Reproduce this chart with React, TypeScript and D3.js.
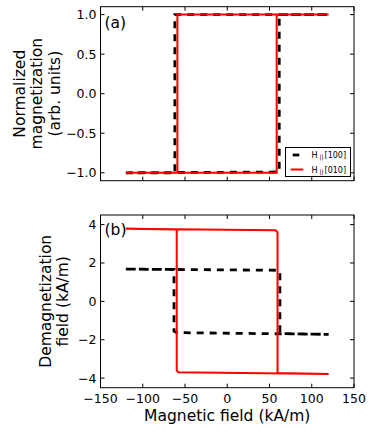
import React from "react";
import * as d3 from "d3";

// Panel (a): normalized magnetization loops
const hA100 = [-120, 60, 61.5, 61.5, 120, 120, -62, -62, -120];
const mA100 = [-1, -0.99, -0.98, 1, 1, 1, 1, -1, -1];
const hA010 = [-120, 58.5, 58.5, 120, 120, -59, -59, -120];
const mA010 = [-1, -1, 1, 1, 1, 1, -1, -1];

// Panel (b): demagnetization field loops (kA/m)
const hB100 = [-120, 58, 62.3, 62.3, 120, 120, -60, -63, -63, -120];
const dB100 = [1.68, 1.62, 1.55, -1.68, -1.72, -1.72, -1.63, -1.55, 1.66, 1.68];
const hB010 = [-120, 57, 59.5, 59.5, 120, 120, -58, -59.8, -59.8, -120];
const dB010 = [3.78, 3.7, 3.6, -3.74, -3.78, -3.78, -3.7, -3.6, 3.74, 3.78];

const xTicks = [-150, -100, -50, 0, 50, 100, 150];
const yTicksA = [-1.0, -0.5, 0.0, 0.5, 1.0];
const yTicksB = [-4, -2, 0, 2, 4];
const legendLabels = ["[100]", "[010]"];

const FONT = "DejaVu Sans, sans-serif";
const fmtMinus = (s: string) => s.replace("-", "\u2212");

const X0 = 100.5, X1 = 354;
const x = d3.scaleLinear().domain([-150, 150]).range([X0, X1]);
const yA = d3.scaleLinear().domain([-1.1, 1.1]).range([180.7, 6.7]);
const yB = d3.scaleLinear().domain([-4.5, 4.5]).range([387.7, 215]);

function pathOf(hs: number[], vs: number[], y: d3.ScaleLinear<number, number>) {
  const pts: [number, number][] = hs.map((h, i) => [h, vs[i]]);
  return d3.line<[number, number]>().x(d => x(d[0])).y(d => y(d[1]))(pts) || "";
}

function Frame({ y, yTicks, fmt }: { y: d3.ScaleLinear<number, number>; yTicks: number[]; fmt: (v: number) => string }) {
  const [yb, yt] = y.range();
  const T = 4;
  return (
    <g>
      <rect x={X0} y={yt} width={X1 - X0} height={yb - yt} fill="none" stroke="#000" strokeWidth={1} />
      {xTicks.map(t => (
        <g key={"x" + t}>
          <line x1={x(t)} x2={x(t)} y1={yb} y2={yb - T} stroke="#000" strokeWidth={1} />
          <line x1={x(t)} x2={x(t)} y1={yt} y2={yt + T} stroke="#000" strokeWidth={1} />
        </g>
      ))}
      {yTicks.map(t => (
        <g key={"y" + t}>
          <line x1={X0} x2={X0 + T} y1={y(t)} y2={y(t)} stroke="#000" strokeWidth={1} />
          <line x1={X1} x2={X1 - T} y1={y(t)} y2={y(t)} stroke="#000" strokeWidth={1} />
          <text x={96.5} y={y(t)} dy="0.36em" textAnchor="end" fontSize={12.5} fontFamily={FONT}>
            {fmtMinus(fmt(t))}
          </text>
        </g>
      ))}
    </g>
  );
}

export default function App() {
  const dash = "7,6";
  return (
    <svg width={374} height={435} style={{ position: "absolute", left: 0, top: 0, background: "#fff" }}>
      <rect width={374} height={435} fill="#fff" />
      {/* Panel a */}
      <path d={pathOf(hA100, mA100, yA)} fill="none" stroke="#000" strokeWidth={2.8} strokeDasharray={dash} />
      <path d={pathOf(hA010, mA010, yA)} fill="none" stroke="#ff0000" strokeWidth={2} />
      <Frame y={yA} yTicks={yTicksA} fmt={d3.format(".1f")} />
      <text x={104.5} y={27.5} fontSize={15.5} fontFamily={FONT}>(a)</text>
      {/* Legend */}
      <rect x={285.5} y={147.5} width={65} height={29} fill="#fff" stroke="#000" strokeWidth={1} />
      <line x1={292.7} x2={299.3} y1={155} y2={155} stroke="#000" strokeWidth={2.8} />
      <line x1={290.7} x2={303.3} y1={169.5} y2={169.5} stroke="#ff0000" strokeWidth={2} />
      {legendLabels.map((l, i) => (
        <text key={l} x={311.5} y={158 + i * 14.5} fontSize={8} fontFamily={FONT}>
          H<tspan fontSize={6} dx={2} dy={1.2}>||</tspan>
          <tspan dx={1} dy={-1.2}>{l}</tspan>
        </text>
      ))}
      {/* Panel b */}
      <path d={pathOf(hB100, dB100, yB)} fill="none" stroke="#000" strokeWidth={2.8} strokeDasharray={dash} />
      <path d={pathOf(hB010, dB010, yB)} fill="none" stroke="#ff0000" strokeWidth={2} />
      <Frame y={yB} yTicks={yTicksB} fmt={d3.format("d")} />
      <text x={104.5} y={235} fontSize={15.5} fontFamily={FONT}>(b)</text>
      {xTicks.map(t => (
        <text key={"xl" + t} x={x(t)} y={402.5} textAnchor="middle" fontSize={12.5} fontFamily={FONT}>
          {fmtMinus(String(t))}
        </text>
      ))}
      <text x={(X0 + X1) / 2} y={421} textAnchor="middle" fontSize={15.5} fontFamily={FONT}>
        Magnetic field (kA/m)
      </text>
      {/* Y labels */}
      <g transform="translate(0,93.7) rotate(-90)" fontSize={15.5} fontFamily={FONT} textAnchor="middle">
        <text x={0} y={24.5}>Normalized</text>
        <text x={0} y={42}>magnetization</text>
        <text x={0} y={59.5}>(arb. units)</text>
      </g>
      <g transform="translate(0,301.3) rotate(-90)" fontSize={15.5} fontFamily={FONT} textAnchor="middle">
        <text x={0} y={50.5}>Demagnetization</text>
        <text x={0} y={67.5}>field (kA/m)</text>
      </g>
    </svg>
  );
}
